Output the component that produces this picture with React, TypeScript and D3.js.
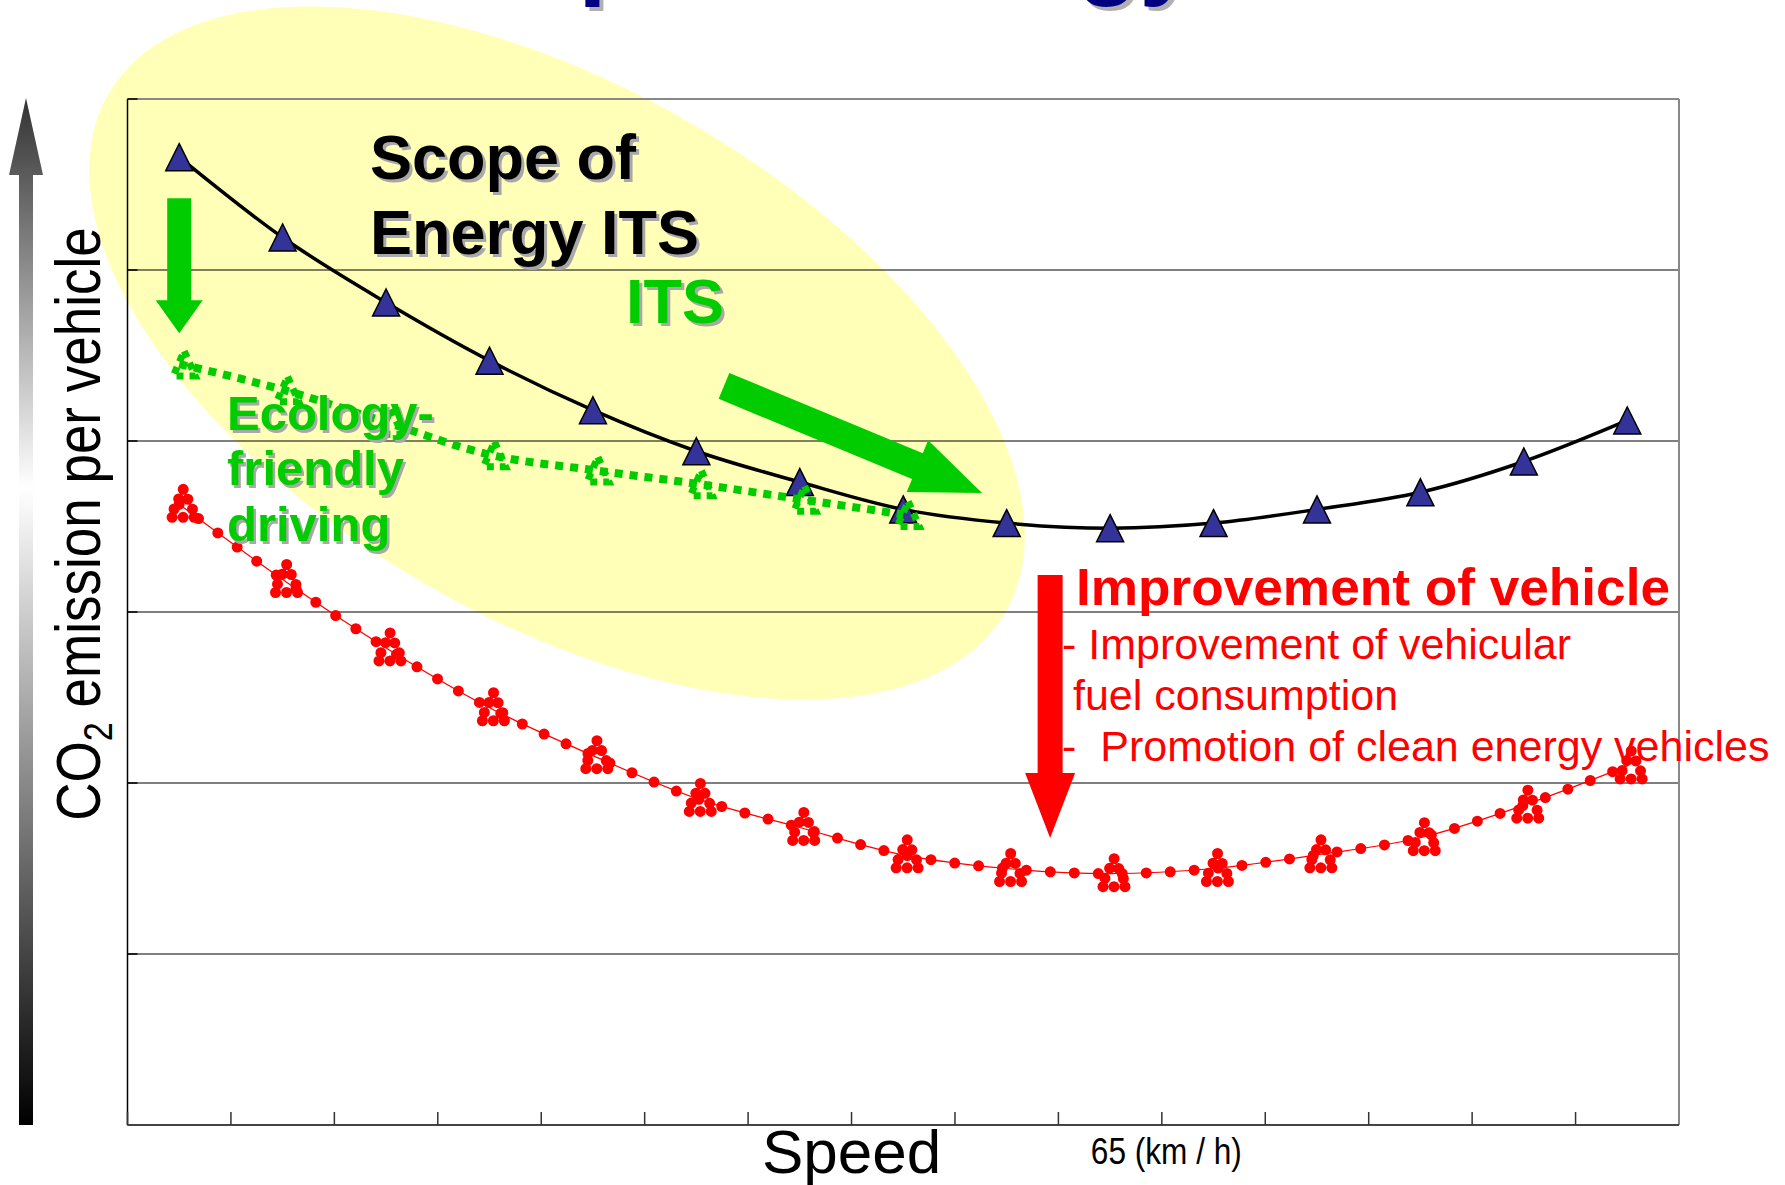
import React from "react";
import * as d3 from "d3";

const W = 1785;
const H = 1185;

// speed bins along the x axis (no labels except the 65 km/h marker)
const speedBins = ["1", "2", "3", "4", "5", "6", "7", "8", "9", "10", "11", "12", "13", "14", "15"];
// CO2 emission per vehicle (relative units, grid step = 1)
const currentVehicle = [5.66, 5.19, 4.81, 4.47, 4.18, 3.94, 3.76, 3.6, 3.52, 3.49, 3.52, 3.6, 3.7, 3.88, 4.12];
const ecoDriving = [4.45, 4.3, 4.11, 3.92, 3.83, 3.75, 3.66, 3.57];
const improvedVehicle = [3.63, 3.19, 2.79, 2.44, 2.16, 1.91, 1.74, 1.58, 1.5, 1.47, 1.5, 1.58, 1.68, 1.87, 2.1];
const yTicks = [0, 1, 2, 3, 4, 5, 6];
const speedLabel = "65 (km / h)";
const speedLabelTick = 10;

const GREEN = "#00cc00";
const RED = "#ff0000";
const FONT = "'Liberation Sans', Arial, sans-serif";

function arrowPath(x1: number, y1: number, x2: number, y2: number, shaft: number, head: number, headLen: number) {
  const a = Math.atan2(y2 - y1, x2 - x1);
  const len = Math.hypot(x2 - x1, y2 - y1);
  const pts: [number, number][] = [
    [0, -shaft / 2],
    [len - headLen, -shaft / 2],
    [len - headLen, -head / 2],
    [len, 0],
    [len - headLen, head / 2],
    [len - headLen, shaft / 2],
    [0, shaft / 2],
  ];
  const c = Math.cos(a), s = Math.sin(a);
  return "M" + pts.map(([u, v]) => `${x1 + u * c - v * s},${y1 + u * s + v * c}`).join("L") + "Z";
}

function ShadowText({ x, y, fill, size, children, shadow = "#a8a8a8", off = 3 }: any) {
  return (
    <g fontFamily={FONT} fontWeight="bold" fontSize={size}>
      <text x={x + off} y={y + off} fill={shadow}>{children}</text>
      <text x={x} y={y} fill={fill}>{children}</text>
    </g>
  );
}

export default function App() {
  const left = 127.5, right = 1679, top = 99, bottom = 1125;

  const x = d3.scaleBand().domain(speedBins).range([left, right]).padding(0);
  const xc = (i: number) => (x(speedBins[i]) as number) + x.bandwidth() / 2;
  const xi = d3.scaleLinear().domain([0, speedBins.length]).range([left, right]);
  const y = d3.scaleLinear().domain([0, 6]).range([bottom, top]);

  const line = d3.line<number>().x((_, i) => xc(i)).y(d => y(d)).curve(d3.curveMonotoneX);

  const tri = "M0,-13.5L13.5,13.5L-13.5,13.5Z";
  const triGreen = "M0,-13L11,12L-11,12Z";
  const triRed = "M0,-15L13,13L-13,13Z";

  return (
    <svg width={W} height={H} style={{ position: "absolute", left: 0, top: 0, background: "#fff" }}>
      <defs>
        <linearGradient id="axisGrad" gradientUnits="userSpaceOnUse" x1="0" y1="98" x2="0" y2="1125">
          <stop offset="0" stopColor="#333333" />
          <stop offset="0.38" stopColor="#ffffff" />
          <stop offset="1" stopColor="#000000" />
        </linearGradient>
      </defs>

      {/* slide title, mostly cut off at the top */}
      <g fontFamily={FONT} fontWeight="bold" fontSize={102} textAnchor="middle">
        <text x={891} y={-10} fill="#b0b0b0">Scope of Energy ITS</text>
        <text x={887} y={-14} fill="#000080">Scope of Energy ITS</text>
      </g>

      {/* scope ellipse */}
      <ellipse cx={557} cy={353} rx={518} ry={266} transform="rotate(30 557 353)" fill="#ffffb8" />

      {/* grid */}
      {yTicks.slice(1, -1).map(t => (
        <line key={t} x1={left} x2={right} y1={y(t)} y2={y(t)} stroke="#000" strokeWidth={1.2} />
      ))}
      <line x1={left} x2={right} y1={top} y2={top} stroke="#888" strokeWidth={2} />
      <line x1={right} x2={right} y1={top} y2={bottom} stroke="#888" strokeWidth={2} />
      <line x1={left} x2={left} y1={top} y2={bottom} stroke="#000" strokeWidth={1.5} />
      {yTicks.map(t => (
        <line key={"yt" + t} x1={left} x2={left + 10} y1={y(t)} y2={y(t)} stroke="#000" strokeWidth={1.5} />
      ))}
      <line x1={left} x2={right} y1={bottom} y2={bottom} stroke="#444" strokeWidth={2.2} />
      {speedBins.map((b, i) => (
        <line key={"xt" + b} x1={xi(i)} x2={xi(i)} y1={bottom} y2={bottom - 13} stroke="#333" strokeWidth={1.5} />
      ))}

      {/* improved vehicle (red dotted) */}
      <path d={line(improvedVehicle) as string} fill="none" stroke={RED} strokeWidth={1.2} />
      <path d={line(improvedVehicle) as string} fill="none" stroke={RED} strokeWidth={11}
        strokeDasharray="0 24" strokeLinecap="round" />
      {improvedVehicle.map((v, i) => (
        <path key={"r" + i} d={triRed} transform={`translate(${xc(i) + 4},${y(v)})`} fill="none"
          stroke={RED} strokeWidth={11} strokeDasharray="0 11" strokeLinecap="round" />
      ))}

      {/* current vehicle (black with triangles) */}
      <path d={line(currentVehicle) as string} fill="none" stroke="#000" strokeWidth={3.5} />
      {currentVehicle.map((v, i) => (
        <path key={"b" + i} d={tri} transform={`translate(${xc(i)},${y(v)})`} fill="#333399"
          stroke="#000" strokeWidth={1.5} />
      ))}

      {/* eco-friendly driving (green dotted) */}
      <path d={line(ecoDriving) as string} fill="none" stroke={GREEN} strokeWidth={8} strokeDasharray="8 7" />
      {ecoDriving.map((v, i) => (
        <path key={"g" + i} d={triGreen} transform={`translate(${xc(i) + 5},${y(v)})`} fill="none"
          stroke={GREEN} strokeWidth={7} strokeDasharray="7 6" />
      ))}

      {/* arrows */}
      <path d={arrowPath(xc(0), y(5.42), xc(0), y(4.63), 24, 47, 33)} fill={GREEN} />
      <path d={arrowPath(xi(5.767), y(4.322), xi(8.262), y(3.696), 28, 56, 70)} fill={GREEN} />
      <path d={arrowPath(xi(8.92), y(3.216), xi(8.92), y(1.678), 25, 50, 65)} fill={RED} />
      <path d={arrowPath(26, 1125, 26, 98, 14, 34, 77)} fill="url(#axisGrad)" />

      {/* annotations */}
      <ShadowText x={370} y={179} size={63} fill="#000">Scope of</ShadowText>
      <ShadowText x={370} y={254} size={63} fill="#000">Energy ITS</ShadowText>
      <ShadowText x={626} y={323} size={63} fill={GREEN}>ITS</ShadowText>
      <ShadowText x={227} y={430} size={49} fill={GREEN} off={2.5}>Ecology-</ShadowText>
      <ShadowText x={227} y={485} size={49} fill={GREEN} off={2.5}>friendly</ShadowText>
      <ShadowText x={227} y={541} size={49} fill={GREEN} off={2.5}>driving</ShadowText>

      <text x={1076} y={605} fontFamily={FONT} fontWeight="bold" fontSize={52} fill={RED}
        textLength={594} lengthAdjust="spacingAndGlyphs">
        Improvement of vehicle
      </text>
      <g fontFamily={FONT} fontSize={43} fill={RED}>
        <text x={1062} y={659}>- Improvement of vehicular</text>
        <text x={1073} y={710}>fuel consumption</text>
        <text x={1062} y={761} xmlSpace="preserve" style={{ whiteSpace: "pre" }}>-  Promotion of clean energy vehicles</text>
      </g>

      {/* axis titles */}
      <text x={762} y={1173} fontFamily={FONT} fontSize={62} fill="#000">Speed</text>
      <text x={xi(speedLabelTick) - 71} y={1164} fontFamily={FONT} fontSize={36} fill="#000"
        textLength={151} lengthAdjust="spacingAndGlyphs">{speedLabel}</text>
      <text transform="translate(100,524) rotate(-90) scale(0.855,1)" textAnchor="middle"
        fontFamily={FONT} fontSize={62} fill="#000">
        CO<tspan fontSize={40} dy={12}>2</tspan><tspan dy={-12}> emission per vehicle</tspan>
      </text>
    </svg>
  );
}
